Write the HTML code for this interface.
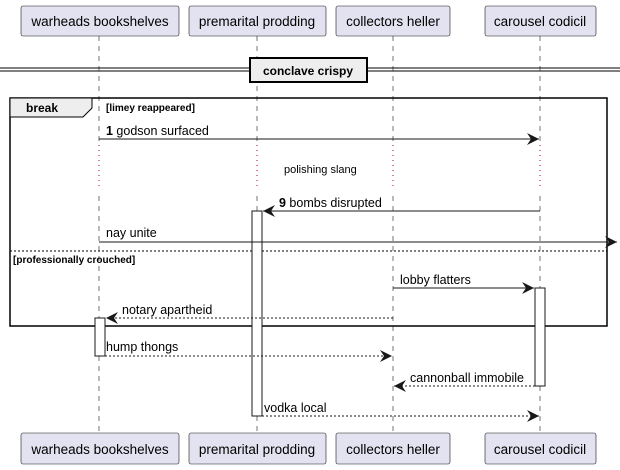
<!DOCTYPE html>
<html><head><meta charset="utf-8"><style>
html,body{margin:0;padding:0;background:#fff;}
svg{display:block;font-family:"Liberation Sans",sans-serif;}
</style></head><body>
<svg width="620" height="470" viewBox="0 0 620 470" xmlns="http://www.w3.org/2000/svg">
<defs>
<marker id="a" markerWidth="13" markerHeight="12" refX="12" refY="6" orient="auto" markerUnits="userSpaceOnUse">
<path d="M0,0 L12,6 L0,12 L4,6 Z" fill="#181818"/></marker>
</defs>
<g stroke="#181818" stroke-width="0.6" stroke-dasharray="5,5">
<line x1="99" y1="36" x2="99" y2="433"/><line x1="257" y1="36" x2="257" y2="433"/>
<line x1="393" y1="36" x2="393" y2="433"/><line x1="540" y1="36" x2="540" y2="433"/>
</g>
<g fill="none">
<rect x="95" y="144" width="9" height="47" fill="#fff"/><rect x="253" y="144" width="9" height="47" fill="#fff"/>
<rect x="389" y="144" width="9" height="47" fill="#fff"/><rect x="536" y="144" width="9" height="47" fill="#fff"/>
</g>
<g stroke="#a80036" stroke-width="1" stroke-dasharray="1,4">
<line x1="99" y1="145" x2="99" y2="190"/><line x1="257" y1="145" x2="257" y2="190"/>
<line x1="393" y1="145" x2="393" y2="190"/><line x1="540" y1="145" x2="540" y2="190"/>
</g>
<text x="284" y="173" font-size="11">polishing slang</text>
<g fill="#e2e2f0" stroke="#181818" stroke-width="0.6">
<rect x="21" y="6" width="158" height="30" rx="2"/><rect x="189" y="6" width="137" height="30" rx="2"/>
<rect x="336" y="6" width="114" height="30" rx="2"/><rect x="485" y="6" width="111" height="30" rx="2"/>
<rect x="21" y="433" width="158" height="31" rx="2"/><rect x="189" y="433" width="137" height="31" rx="2"/>
<rect x="336" y="433" width="114" height="31" rx="2"/><rect x="485" y="433" width="111" height="31" rx="2"/>
</g>
<g font-size="13.5" text-anchor="middle" fill="#000">
<text x="100" y="26">warheads bookshelves</text><text x="257" y="26">premarital prodding</text>
<text x="393" y="26">collectors heller</text><text x="540" y="26">carousel codicil</text>
<text x="100" y="454">warheads bookshelves</text><text x="257" y="454">premarital prodding</text>
<text x="393" y="454">collectors heller</text><text x="540" y="454">carousel codicil</text>
</g>
<line x1="0" y1="68" x2="620" y2="68" stroke="#000" stroke-width="1"/>
<line x1="0" y1="71" x2="620" y2="71" stroke="#000" stroke-width="1"/>
<rect x="250" y="58" width="117" height="24" fill="#eee" stroke="#000" stroke-width="2"/>
<text x="308" y="75" font-size="12" font-weight="bold" text-anchor="middle">conclave crispy</text>
<rect x="10" y="98" width="597" height="228" fill="none" stroke="#000" stroke-width="1.5"/>
<path d="M10,98 L92,98 L92,108 L83,117 L10,117 Z" fill="#eee" stroke="#000" stroke-width="1"/>
<text x="26" y="112" font-size="12" font-weight="bold">break</text>
<text x="106" y="111" font-size="10" font-weight="bold">[limey reappeared]</text>
<line x1="10" y1="251" x2="607" y2="251" stroke="#000" stroke-width="1" stroke-dasharray="2,2"/>
<text x="13" y="263" font-size="10" font-weight="bold">[professionally crouched]</text>
<g fill="#fff" stroke="#181818" stroke-width="1">
<rect x="252" y="211" width="10" height="205"/><rect x="535" y="288" width="10" height="98"/>
<rect x="95" y="318" width="10" height="38"/>
</g>
<g stroke="#181818" stroke-width="1" fill="none">
<line x1="99" y1="139" x2="539" y2="139" marker-end="url(#a)"/>
<line x1="540" y1="211" x2="263" y2="211" marker-end="url(#a)"/>
<line x1="99" y1="242" x2="617" y2="242" marker-end="url(#a)"/>
<line x1="393" y1="288" x2="534" y2="288" marker-end="url(#a)"/>
<g stroke-dasharray="2,2">
<line x1="393" y1="318" x2="106" y2="318" marker-end="url(#a)"/>
<line x1="105" y1="356" x2="392" y2="356" marker-end="url(#a)"/>
<line x1="535" y1="386" x2="394" y2="386" marker-end="url(#a)"/>
<line x1="262" y1="416" x2="539" y2="416" marker-end="url(#a)"/>
</g></g>
<g font-size="12.5" fill="#000">
<text x="106" y="135"><tspan font-weight="bold">1</tspan> godson surfaced</text>
<text x="279" y="207"><tspan font-weight="bold">9</tspan> bombs disrupted</text>
<text x="106" y="237">nay unite</text>
<text x="400" y="284">lobby flatters</text>
<text x="122" y="314">notary apartheid</text>
<text x="106" y="351">hump thongs</text>
<text x="410" y="382">cannonball immobile</text>
<text x="264" y="412">vodka local</text>
</g>
</svg>
</body></html>
